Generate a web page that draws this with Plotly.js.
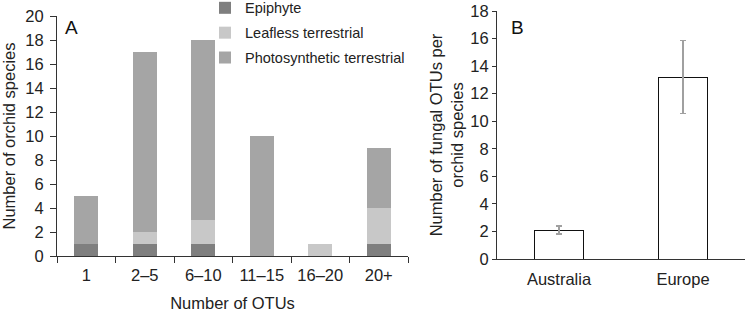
<!DOCTYPE html>
<html><head><meta charset="utf-8">
<script src="https://cdn.plot.ly/plotly-3.0.1.min.js"></script>
<style>html,body{margin:0;padding:0;background:#fff}#chart{width:745px;height:312px}</style>
</head><body><div id="chart"></div>
<script>
// Panel A data
const otuCategories = ['1', '2\u20135', '6\u201310', '11\u201315', '16\u201320', '20+'];
const epiphyte = [1, 1, 1, 0, 0, 1];
const leaflessTerrestrial = [0, 1, 2, 0, 1, 3];
const photosyntheticTerrestrial = [4, 15, 15, 10, 0, 5];
// Panel B data
const regions = ['Australia', 'Europe'];
const meanOTUs = [2.1, 13.2];
const errOTUs = [0.3, 2.65];

const FONT = 'Liberation Sans, Arial, Helvetica, sans-serif';
const AX = '#333';
const FS = 16.5;

const traces = [
  {type:'bar', name:'Epiphyte', x:otuCategories, y:epiphyte, xaxis:'x', yaxis:'y',
   marker:{color:'#7f7f7f'}, width:0.41, hoverinfo:'skip', legendgroup:'g0'},
  {type:'bar', name:'Leafless terrestrial', x:otuCategories, y:leaflessTerrestrial, xaxis:'x', yaxis:'y',
   marker:{color:'#c8c8c8'}, width:0.41, hoverinfo:'skip', legendgroup:'g1'},
  {type:'bar', name:'Photosynthetic terrestrial', x:otuCategories, y:photosyntheticTerrestrial, xaxis:'x', yaxis:'y',
   marker:{color:'#a5a5a5'}, width:0.41, hoverinfo:'skip', legendgroup:'g2'},
  {type:'bar', name:'Mean', x:regions, y:meanOTUs, xaxis:'x2', yaxis:'y2', showlegend:false,
   marker:{color:'#ffffff', line:{color:'#111', width:1}}, width:0.4,
   error_y:{type:'data', array:errOTUs, visible:true, color:'#a0a0a0', thickness:1.5, width:3}}
];

const layout = {
  width:745, height:312,
  margin:{l:0, r:0, t:0, b:0, autoexpand:false},
  paper_bgcolor:'#fff', plot_bgcolor:'#fff',
  font:{family:FONT, size:FS, color:'#222'},
  barmode:'stack',
  showlegend:true,
  legend:{x:205/745, y:1.026, xanchor:'left', yanchor:'top', bgcolor:'rgba(0,0,0,0)',
    font:{family:FONT, size:14.5, color:'#222'}, tracegroupgap:3, itemwidth:30, traceorder:'grouped'},
  xaxis:{domain:[57/745, 408/745], anchor:'y', showgrid:false, zeroline:false, automargin:true,
    showline:true, linecolor:AX, linewidth:1, ticks:'outside', tickson:'boundaries',
    ticklen:6, tickcolor:AX, tickfont:{size:FS}, ticklabelstandoff:4,
    title:{text:'Number of OTUs', font:{size:FS}, standoff:16}},
  yaxis:{domain:[1-256/312, 1-16/312], anchor:'x', range:[0,20], dtick:2, showgrid:false, zeroline:false, automargin:true,
    showline:true, linecolor:AX, linewidth:1, ticks:'outside', ticklen:6, tickcolor:AX, tickfont:{size:FS}, ticklabelstandoff:3,
    title:{text:'Number of orchid species', font:{size:FS}, standoff:12}},
  xaxis2:{domain:[497/745, 1], anchor:'y2', showgrid:false, zeroline:false, automargin:true,
    showline:true, linecolor:AX, linewidth:1, ticks:'', tickfont:{size:FS}, ticklabelstandoff:5},
  yaxis2:{domain:[1-259/312, 1-11/312], anchor:'x2', range:[0,18], dtick:2, showgrid:false, zeroline:false, automargin:true,
    showline:true, linecolor:AX, linewidth:1, ticks:'outside', ticklen:4, tickcolor:AX, tickfont:{size:FS},
    title:{text:'Number of fungal OTUs per<br>orchid species', font:{size:FS}, standoff:2}},
  annotations:[
    {text:'A', xref:'paper', yref:'paper', x:63/745, y:1-27/312, xanchor:'left', yanchor:'middle',
     showarrow:false, font:{family:FONT, size:19, color:'#111'}},
    {text:'B', xref:'paper', yref:'paper', x:509/745, y:1-27/312, xanchor:'left', yanchor:'middle',
     showarrow:false, font:{family:FONT, size:19, color:'#111'}}
  ]
};

Plotly.newPlot('chart', traces, layout, {staticPlot:true, displayModeBar:false});
</script></body></html>
